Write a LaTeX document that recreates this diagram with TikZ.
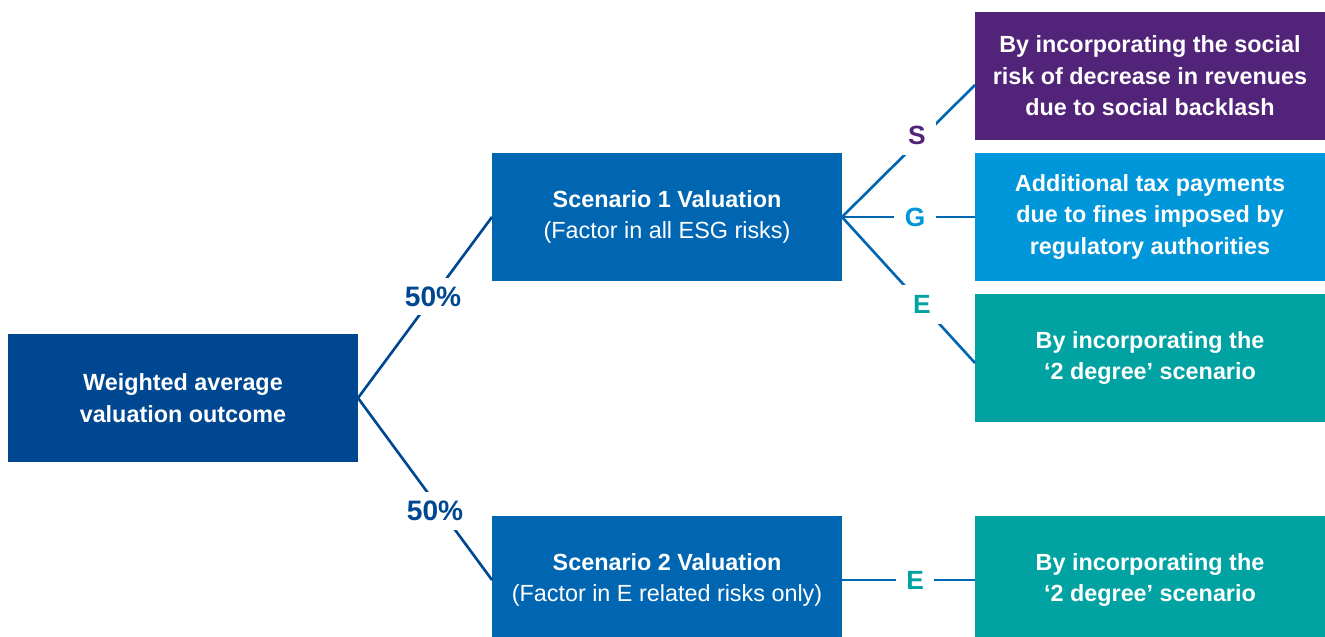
\documentclass[tikz,border=0pt]{standalone}
\usepackage{fontspec}
\setmainfont{Liberation Sans}
\usetikzlibrary{positioning}
\definecolor{esgnavy}{RGB}{0,71,145}
\definecolor{esgblue}{RGB}{0,102,178}
\definecolor{esglight}{RGB}{0,150,218}
\definecolor{esgpurple}{RGB}{81,36,121}
\definecolor{esgteal}{RGB}{0,163,161}
\tikzset{every node/.style={align=center},
  box/.style={ % coloured text boxes, all the same size
    minimum width=7cm, minimum height=2.56cm,
    inner sep=0pt, outer sep=0pt,
    text=white, font=\fontsize{13.3}{18}\selectfont\bfseries},
  branch/.style={line width=1.5pt},
  pct/.style={fill=white, inner sep=5pt, font=\fontsize{16}{16}\selectfont\bfseries},
  tag/.style={fill=white, inner sep=6pt, font=\fontsize{15}{15}\selectfont\bfseries}}

\begin{document}
\begin{tikzpicture}
  \clip (-3.66,-4.78) rectangle (22.84,7.96);

  \node [box, fill=esgnavy] (wavg) {Weighted average\\ valuation outcome};

  % the two scenarios
  \node [box, fill=esgblue, above right=1.06cm and 2.68cm of wavg] (scen1) {
    Scenario 1 Valuation\\
    {\mdseries (Factor in all ESG risks)}
  };
  \node [box, fill=esgblue, below right=1.08cm and 2.68cm of wavg] (scen2) {
    Scenario 2 Valuation\\
    {\mdseries (Factor in E related risks only)}
  };

  % risk boxes
  \node [box, fill=esglight, right=2.66cm of scen1] (gbox) {
    Additional tax payments\\
    due to fines imposed by\\
    regulatory authorities
  };
  \node [box, fill=esgpurple, above=0.26cm of gbox] (sbox) {
    By incorporating the social\\
    risk of decrease in revenues\\
    due to social backlash
  };
  \node [box, fill=esgteal, below=0.26cm of gbox] (ebox) {
    By incorporating the\\
    `2 degree' scenario
  };
  \node [box, fill=esgteal, right=2.66cm of scen2] (etwo) {
    By incorporating the\\
    `2 degree' scenario
  };

  % weights
  \draw [branch, esgnavy] (wavg.east) -- node [pct, pos=0.56] {50\%} (scen1.west);
  \draw [branch, esgnavy] (wavg.east) -- node [pct, pos=0.62, xshift=-1.2mm] {50\%} (scen2.west);

  % ESG branches
  \draw [branch, esgblue] (scen1.east) -- node [tag, text=esgpurple, pos=0.62, xshift=-1.5mm] {S} ([yshift=-1.8mm]sbox.west);
  \draw [branch, esgblue] (scen1.east) -- node [tag, text=esglight, pos=0.55] {G} (gbox.west);
  \draw [branch, esgblue] (scen1.east) -- node [tag, text=esgteal, pos=0.6] {E} ([yshift=-1mm]ebox.west);
  \draw [branch, esgblue] (scen2.east) -- node [tag, text=esgteal, pos=0.55] {E} (etwo.west);

\end{tikzpicture}
\end{document}
